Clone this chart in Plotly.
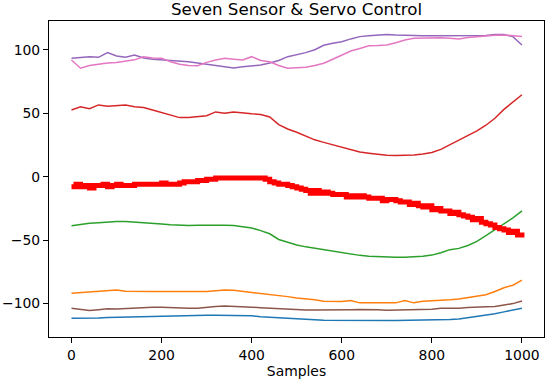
import plotly.graph_objects as go

# Sensor samples (every 20 samples)
x_sensor = list(range(0, 1001, 20))

sensor_red = [52.5, 55, 53.5, 56.5, 55.5, 56, 56.5, 55, 54.5, 52.5,
              50.5, 48.5, 46.5, 46.5, 47, 48, 51, 50, 51, 50,
              49.5, 49, 47, 41, 37.5, 35, 32, 29, 27, 25,
              23, 21.5, 19.5, 18.5, 17.5, 16.8, 16.6, 16.5, 17, 17.8,
              19, 21.5, 25, 28.5, 32, 36, 40.5, 46, 53, 59, 64.5]

sensor_green = [-38.6, -37.5, -36.8, -36.3, -35.8, -35.4, -35.4, -35.7, -36, -36.6,
                -37.2, -37.8, -38.3, -38.5, -38.3, -38.1, -38, -38.2, -38.5, -39.3,
                -40.4, -42.5, -45, -49.5, -51.8, -53.8, -55.3, -56.5, -57.5, -58.6,
                -60.2, -61.2, -62, -62.7, -63.1, -63.4, -63.5, -63.5, -63.3, -62.7,
                -61.8, -60, -57.5, -56.5, -54.2, -51, -46.5, -42, -37.5, -32.5, -27]

sensor_orange = [-91.8, -91.3, -90.8, -90.5, -90.3, -89.3, -90.3, -90.5, -90.5, -90.5,
                 -90.5, -90.5, -90.5, -90.5, -90.5, -90.5, -89.8, -89.3, -89.5, -90.3,
                 -91, -91.8, -93, -93.2, -94.5, -95.5, -96, -97, -98.2, -98.4,
                 -98.4, -97.5, -99.4, -99.4, -99.4, -99.4, -99.4, -97.5, -99.4, -98.2,
                 -97.9, -97.5, -97, -96.3, -95.3, -94.5, -93, -90.5, -87.5, -85.5, -81.5]

sensor_brown = [-103.6, -104.3, -105.4, -104.8, -104.1, -104.2, -103.8, -103.4, -102.8, -102.8,
                -102.8, -103.2, -103.6, -103.6, -103.6, -102.8, -102.3, -101.8, -102, -102.3,
                -102.8, -103.2, -103.6, -103.8, -104.1, -104.5, -105, -105, -105.1, -105.2,
                -105.2, -104.8, -104.6, -104.4, -104.8, -105.2, -105.1, -105, -105, -105,
                -104.4, -103.6, -103.6, -103.6, -103, -102.5, -102.4, -102.3, -101.2, -100, -97.9]

sensor_blue = [-111.5, -111.5, -111.5, -111.3, -110.9, -110.7, -110.7, -110.6, -110.5, -110.3,
               -110.1, -109.9, -109.7, -109.6, -109.4, -109.2, -109.1, -109.1, -109.1, -109.1,
               -109.6, -110.3, -110.8, -111.3, -111.8, -112.2, -112.5, -112.8, -113.1, -113.2,
               -113.3, -113.3, -113.3, -113.3, -113.3, -113.3, -113.3, -113.2, -113.1, -113.1,
               -113.1, -112.9, -112.6, -112.1, -111.2, -110.2, -109.2, -108, -106.5, -105, -103.6]

sensor_purple = [93.2, 93.8, 94.5, 94, 97.7, 95, 94, 95.8, 93.5, 92.5,
                 92, 91.9, 91.3, 90.5, 89.5, 88.5, 87.5, 86.5, 85.5, 86.5,
                 87.2, 88, 89.5, 91.5, 94.5, 96, 97.7, 100, 103.5, 105,
                 106.3, 108.5, 110.3, 111, 111.5, 112, 111.5, 111.2, 111, 111,
                 111, 111, 111, 111, 111, 111, 111.2, 112, 112, 110.3, 103.7]

sensor_pink = [91.9, 85.4, 87.5, 88.8, 89.5, 90, 91, 92, 94.5, 93.5,
               93.2, 90.5, 88.5, 87.5, 87.4, 90, 91.9, 93.2, 92.5, 91.9,
               94.5, 91.5, 90.5, 87.5, 85.4, 85.8, 86.1, 87.5, 89.3, 92.5,
               95.8, 99, 101, 103.1, 103.3, 103.7, 105.5, 107.7, 109, 109.3,
               109.7, 109.5, 109, 108.5, 109.6, 110.3, 111, 111.3, 111.6, 111, 110.3]

# Servo command (every 10 samples)
x_servo = list(range(0, 1001, 10))
servo = [-8, -6, -8, -7, -9, -7, -7, -6, -8, -7,
         -6, -7, -7, -7, -6, -6, -6, -6, -6, -6,
         -5, -6, -6, -6, -5, -4, -4, -4, -3, -3,
         -2, -2, -1, -1, -1, -1, -1, -1, -1, -1,
         -1, -1, -1, -2, -4, -5, -6, -6, -7, -8,
         -9, -10, -11, -13, -11, -13, -12, -13, -14, -14,
         -14, -16, -15, -16, -15, -16, -17, -17, -17, -19,
         -18, -18, -19, -20, -20, -22, -21, -23, -24, -23,
         -26, -25, -27, -27, -29, -28, -30, -31, -32, -34,
         -33, -36, -37, -38, -40, -41, -42, -44, -43, -46, -44]

series = [
    ("sensor 1", sensor_blue, "#1f77b4"),
    ("sensor 2", sensor_orange, "#ff7f0e"),
    ("sensor 3", sensor_green, "#2ca02c"),
    ("sensor 4", sensor_red, "#d62728"),
    ("sensor 5", sensor_purple, "#9467bd"),
    ("sensor 6", sensor_brown, "#8c564b"),
    ("sensor 7", sensor_pink, "#e377c2"),
]

fig = go.Figure()
for name, vals, col in series:
    fig.add_trace(go.Scatter(x=x_sensor, y=vals, mode="lines", name=name,
                             line=dict(color=col, width=1.5)))
fig.add_trace(go.Scatter(x=x_servo, y=servo, mode="lines", name="servo",
                         line=dict(color="#ff0000", width=5, shape="hv")))

axis_common = dict(showgrid=False, zeroline=False, showline=True, mirror=True,
                   linecolor="black", linewidth=1.1, ticks="outside", ticklen=5,
                   tickwidth=1.1, tickcolor="black", automargin=False,
                   tickfont=dict(family="DejaVu Sans", size=13.9, color="black"))

fig.update_layout(
    width=548, height=380,
    margin=dict(l=49, r=4, t=21, b=43),
    paper_bgcolor="white", plot_bgcolor="white",
    showlegend=False,
    title=dict(text="Seven Sensor & Servo Control", x=0.5, xanchor="center",
               xref="paper", y=1 - 9.5 / 380, yanchor="middle",
               font=dict(family="DejaVu Sans", size=16.7, color="black")),
    xaxis=dict(range=[-49.95, 1048.95], tickvals=[0, 200, 400, 600, 800, 1000],
               title=dict(text="Samples", standoff=4,
                          font=dict(family="DejaVu Sans", size=13.9, color="black")),
               **axis_common),
    yaxis=dict(range=[-126.3, 122.6], tickvals=[-100, -50, 0, 50, 100],
               **axis_common),
)

fig.write_html("out.html", config={"displayModeBar": False},
               post_script="document.body.style.margin='0';document.body.style.padding='0';")
